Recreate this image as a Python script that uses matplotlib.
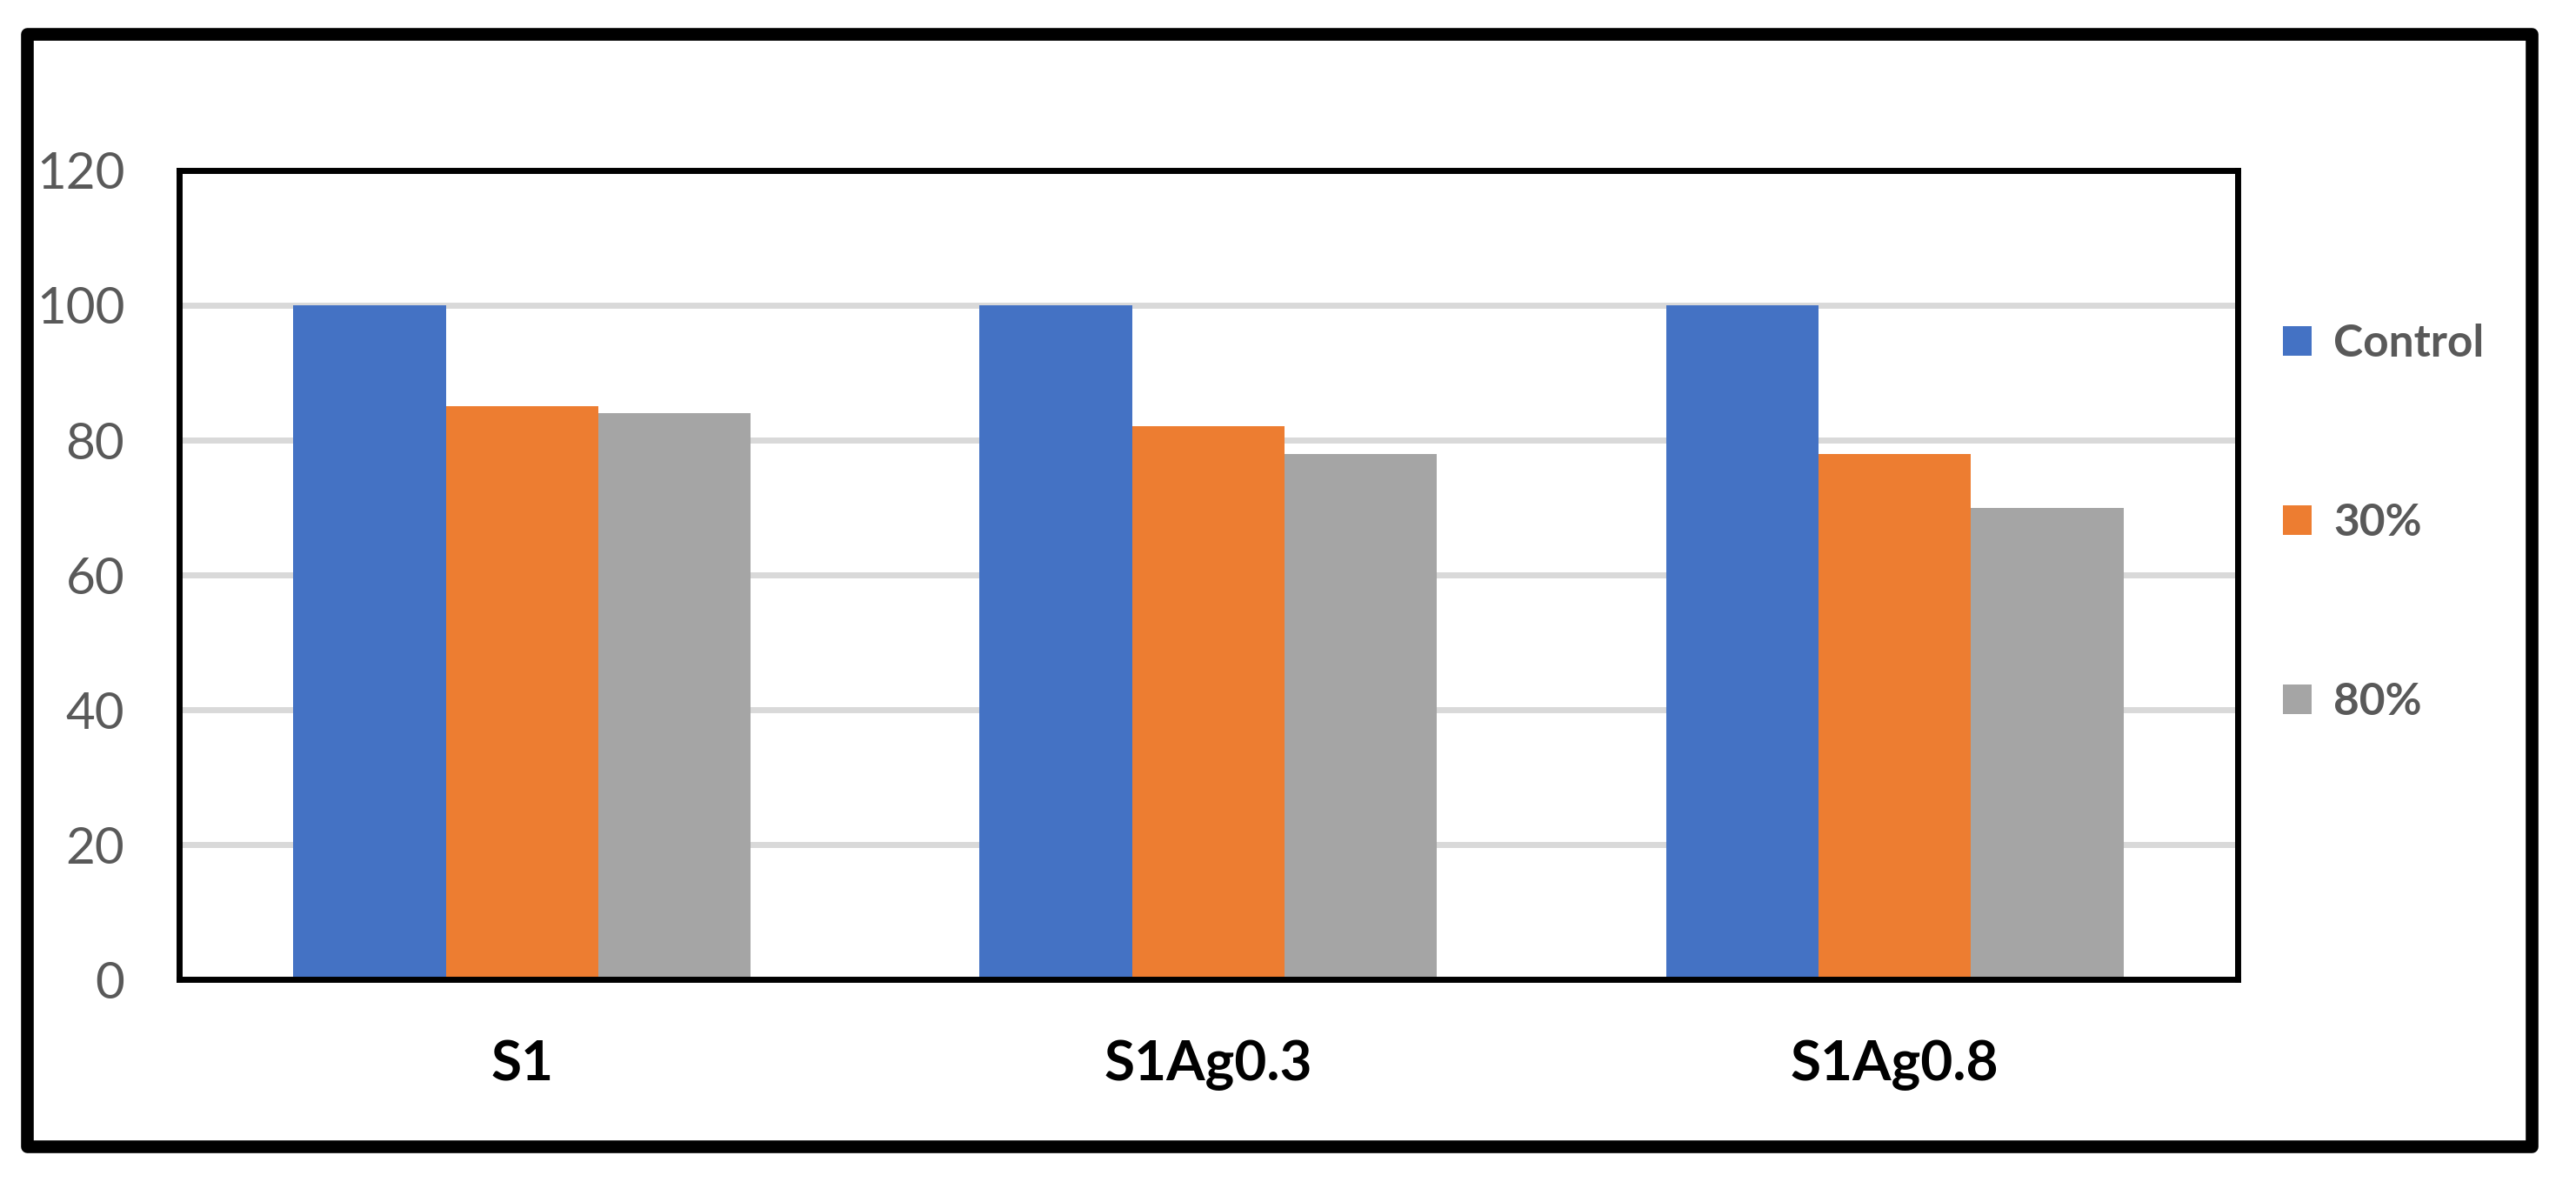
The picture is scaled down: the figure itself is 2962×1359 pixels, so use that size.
import numpy as np, matplotlib
matplotlib.use("Agg")
import matplotlib.pyplot as plt
from matplotlib.patches import Rectangle

categories = ["S1", "S1Ag0.3", "S1Ag0.8"]
series_names = ["Control", "30%", "80%"]
control = [100, 100, 100]
pct30 = [85, 82, 78]
pct80 = [84, 78, 70]
yticks = [0, 20, 40, 60, 80, 100, 120]

colors = ["#4472C4", "#ED7D31", "#A5A5A5"]
plt.rcParams["font.family"] = ["Lato", "DejaVu Sans"]

fig = plt.figure(figsize=(29.62, 13.59), dpi=100, facecolor="white")
ax = fig.add_axes([0.0695, 0.1714, 0.7992, 0.6844])

x = np.arange(len(categories))
w = 1 / 4.5
bars = []
for i, (vals, name) in enumerate(zip([control, pct30, pct80], series_names)):
    bars.append(ax.bar(x + (i - 1) * w, vals, width=w, color=colors[i], label=name, zorder=3))

ax.set_xlim(-0.5, len(categories) - 0.5)
ax.set_ylim(0, 120)
ax.set_yticks(yticks)
ax.set_yticklabels([str(v) for v in yticks], fontsize=42, color="#595959")
ax.set_xticks(x)
ax.set_xticklabels(categories, fontsize=46, fontweight="bold", color="black")
ax.tick_params(axis="both", length=0)
ax.tick_params(axis="y", pad=45)
ax.tick_params(axis="x", pad=50)
ax.yaxis.grid(True, color="#D9D9D9", linewidth=5, zorder=0)
ax.set_axisbelow(True)
for s in ax.spines.values():
    s.set_linewidth(5)
    s.set_color("black")
    s.set_zorder(4)

fig.legend(handles=bars, labels=series_names, loc="upper left",
           bbox_to_anchor=(0.8705, 0.7605), frameon=False,
           prop={"size": 37, "weight": "bold"}, labelcolor="#595959",
           handlelength=0.64, handleheight=0.64, handletextpad=0.5, labelspacing=3.1)

# outer chart frame
fig.patches.append(Rectangle((31 / 2962, 1 - 1318 / 1359), (2911 - 31) / 2962, (1318 - 39) / 1359,
                             transform=fig.transFigure, fill=False, edgecolor="black",
                             linewidth=10.5, joinstyle="round", zorder=10))

plt.savefig("out.png", dpi=100, facecolor=fig.get_facecolor())
